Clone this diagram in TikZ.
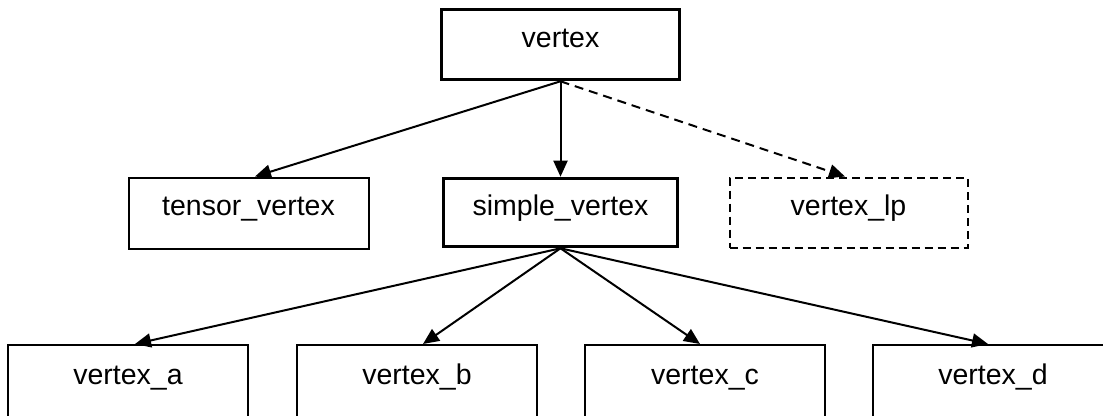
\documentclass[tikz,border=0pt]{standalone}
\usepackage{fontspec}
\setmainfont{Liberation Sans}
\usetikzlibrary{arrows.meta}
\tikzset{
  box/.style={draw, rectangle, line width=2pt, minimum width=240pt, minimum height=73pt,
    inner sep=0pt, text height=20pt, text depth=15pt,
    font=\fontsize{28.5}{34}\selectfont},
  strongbox/.style={box, line width=3.6pt},
  dashbox/.style={box, dash pattern=on 8pt off 5pt},
  edge/.style={line width=2pt, -{Triangle[length=16pt,width=14pt]}},
  dashedge/.style={edge, dash pattern=on 9pt off 6pt},
}
\begin{document}
\begin{tikzpicture}[x=1pt, y=-1pt]
  \useasboundingbox (0,0) rectangle (1103,415);

  % top level
  \node[strongbox, minimum width=238pt, minimum height=70pt] (vertex) at (560.5,44.5) {vertex};

  % second level
  \node[box, minimum width=240pt, minimum height=71pt] (tensor) at (248.5,213) {tensor\_vertex};
  \node[strongbox, minimum width=234pt, minimum height=68pt] (simple) at (560.5,212.5) {simple\_vertex};
  \node[dashbox, minimum width=238pt, minimum height=70pt] (lp) at (848.5,212.5) {vertex\_lp};

  % third level
  \node[box] (va) at (128,381.5) {vertex\_a};
  \node[box] (vb) at (417,381.5) {vertex\_b};
  \node[box] (vc) at (705,381.5) {vertex\_c};
  \node[box] (vd) at (993,381.5) {vertex\_d};

  % edges from vertex
  \draw[edge] (vertex.south) -- ([xshift=6.5pt]tensor.north);
  \draw[edge] (vertex.south) -- (simple.north);
  \draw[dashedge] (vertex.south) -- ([xshift=-3.5pt]lp.north);

  % edges from simple_vertex
  \draw[edge] (simple.south) -- ([xshift=7pt]va.north);
  \draw[edge] (simple.south) -- ([xshift=6pt]vb.north);
  \draw[edge] (simple.south) -- ([xshift=-5pt]vc.north);
  \draw[edge] (simple.south) -- ([xshift=-5pt]vd.north);
\end{tikzpicture}
\end{document}
